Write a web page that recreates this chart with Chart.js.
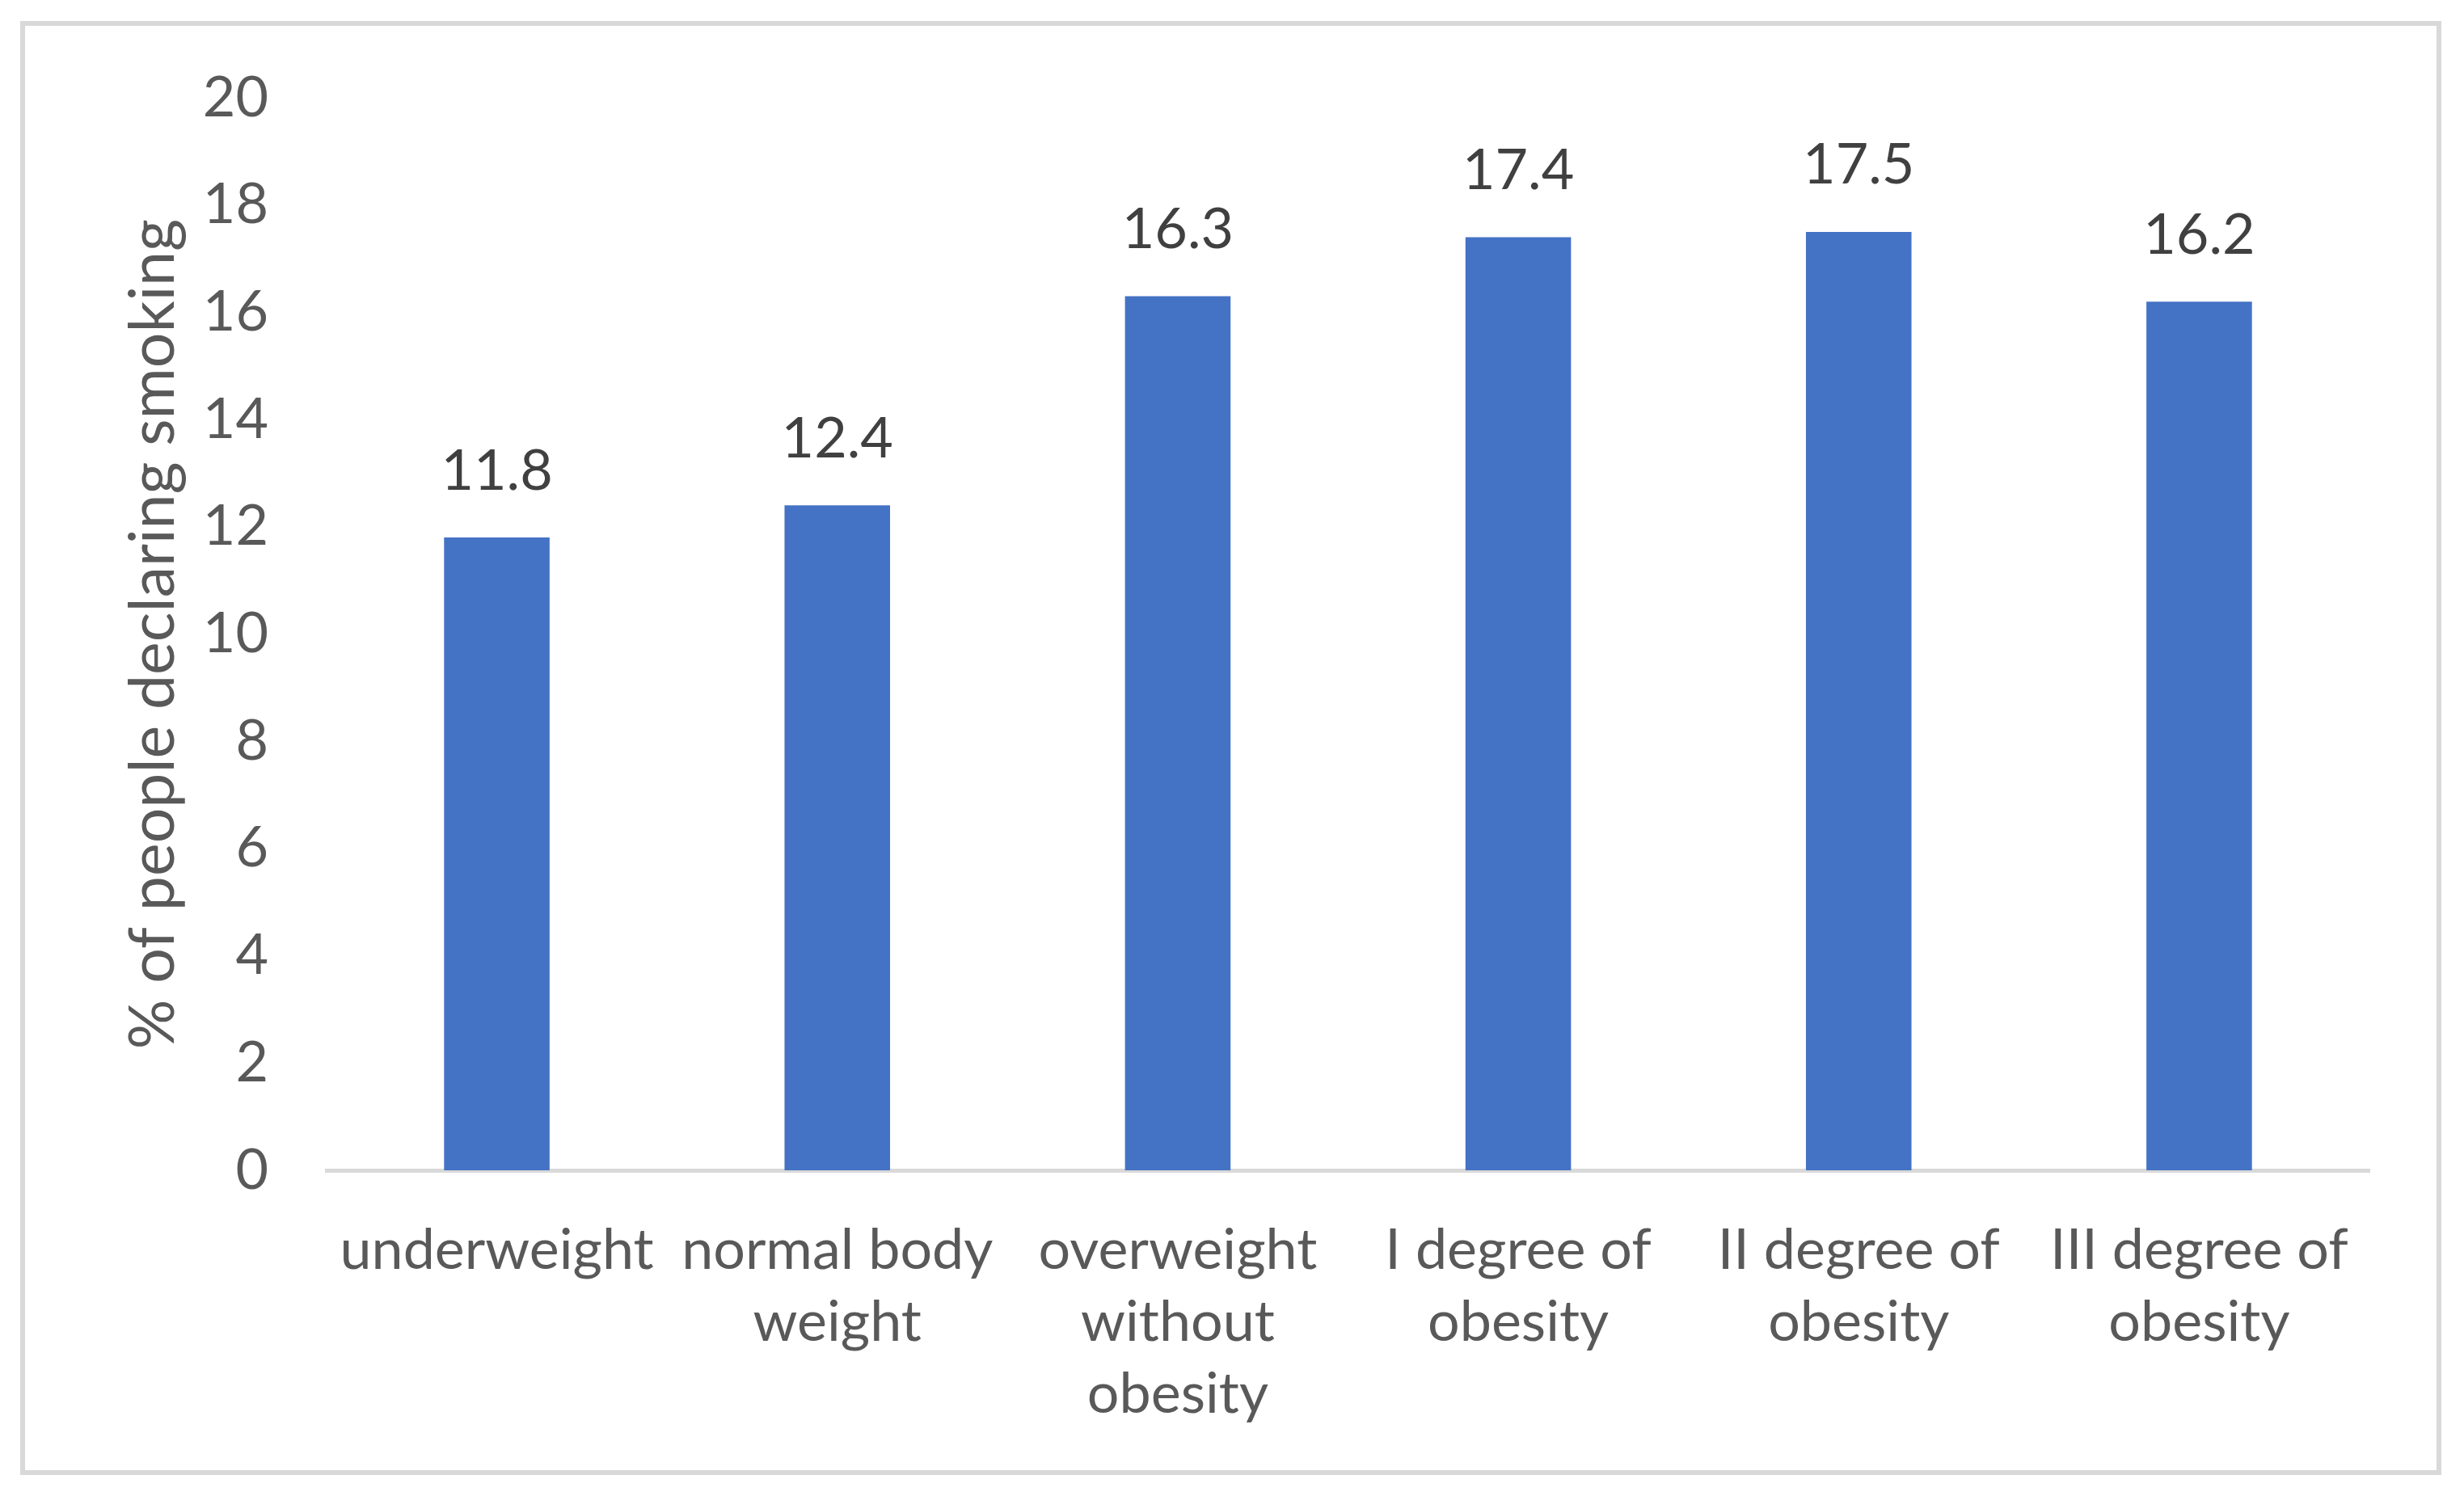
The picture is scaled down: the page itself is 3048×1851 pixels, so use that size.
<!DOCTYPE html>
<html><head><meta charset="utf-8">
<script src="https://cdn.jsdelivr.net/npm/chart.js@4.4.0/dist/chart.umd.min.js"></script>
<style>html,body{margin:0;padding:0;background:#fff;overflow:hidden}canvas{display:block}</style>
</head><body>
<canvas id="c" width="3048" height="1851"></canvas>
<script>
// ---- data ----
const categories = [
  ['underweight'],
  ['normal body', 'weight'],
  ['overweight', 'without', 'obesity'],
  ['I degree of', 'obesity'],
  ['II degree of', 'obesity'],
  ['III degree of', 'obesity']
];
const smokingPct = [11.8, 12.4, 16.3, 17.4, 17.5, 16.2];
const yAxisTitle = '% of people declaring smoking';
const yMin = 0, yMax = 20, yStep = 2;

// ---- style ----
const FONT = 'Lato';
const TEXT_GRAY = '#595959';
const LABEL_GRAY = '#404040';
const BAR_BLUE = '#4472C4';
const LINE_GRAY = '#D9D9D9';

const frame = {
  id: 'frame',
  beforeDraw(chart) {
    const ctx = chart.ctx;
    ctx.save();
    ctx.fillStyle = '#fff';
    ctx.fillRect(0, 0, chart.width, chart.height);
    ctx.strokeStyle = LINE_GRAY;
    ctx.lineWidth = 6;
    ctx.strokeRect(28, 29, 3017 - 28, 1822 - 29);
    ctx.restore();
  }
};

const valueLabels = {
  id: 'valueLabels',
  afterDatasetsDraw(chart) {
    const ctx = chart.ctx;
    const meta = chart.getDatasetMeta(0);
    ctx.save();
    ctx.font = '70px ' + FONT;
    ctx.fillStyle = LABEL_GRAY;
    ctx.textAlign = 'center';
    ctx.textBaseline = 'middle';
    meta.data.forEach((bar, i) => {
      ctx.fillText(smokingPct[i].toFixed(1), bar.x, bar.y - 82);
    });
    ctx.restore();
  }
};

function draw() {
  new Chart(document.getElementById('c'), {
    type: 'bar',
    data: {
      labels: categories,
      datasets: [{
        data: smokingPct,
        backgroundColor: BAR_BLUE,
        borderWidth: 0,
        barPercentage: 0.31,
        categoryPercentage: 1
      }]
    },
    options: {
      responsive: false,
      devicePixelRatio: 1,
      animation: false,
      layout: { padding: { top: 121, right: 117, left: 0, bottom: 0 } },
      plugins: { legend: { display: false }, tooltip: { enabled: false } },
      scales: {
        x: {
          grid: { display: false, drawTicks: false },
          border: { display: true, color: LINE_GRAY, width: 5 },
          ticks: {
            color: TEXT_GRAY,
            font: { family: FONT, size: 70, lineHeight: 1.27 },
            padding: 55,
            maxRotation: 0,
            autoSkip: false
          },
          afterFit(s) { s.height = 1851 - 1448; }
        },
        y: {
          min: yMin, max: yMax,
          grid: { display: false, drawTicks: false },
          border: { display: false },
          ticks: {
            stepSize: yStep,
            color: TEXT_GRAY,
            font: { family: FONT, size: 70 },
            padding: 72
          },
          title: {
            display: true,
            text: yAxisTitle,
            color: TEXT_GRAY,
            font: { family: FONT, size: 77 },
            padding: { top: 144, bottom: 0 }
          },
          afterFit(s) { s.width = 404; }
        }
      }
    },
    plugins: [frame, valueLabels]
  });
}
(document.fonts && document.fonts.load ? document.fonts.load('72px ' + FONT) : Promise.resolve()).then(draw, draw);
</script>
</body></html>
